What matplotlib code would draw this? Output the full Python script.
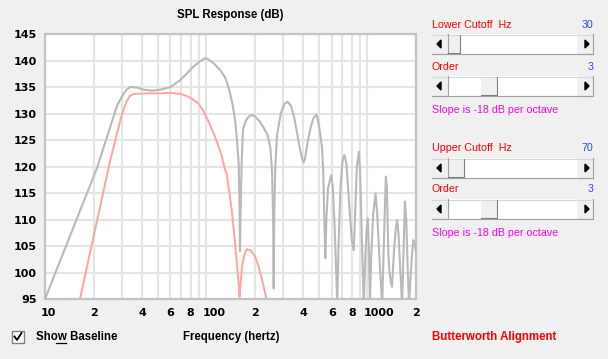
import numpy as np
import matplotlib.pyplot as plt
from matplotlib.patches import Rectangle, Polygon
from matplotlib.transforms import ScaledTranslation

# baseline response (gray) and filtered response (pink)
gray_freq = [10, 21, 28, 30, 32, 34, 37, 41, 46, 52, 60, 69, 76, 83, 92, 98, 102, 110,
             122, 131, 138, 145, 151, 155, 159, 161, 162, 163, 166, 169, 175, 183, 192,
             200, 215, 228, 240, 250, 256, 260, 262, 264, 268, 275, 290, 305, 320, 335,
             350, 365, 380, 395, 402, 410, 425, 445, 465, 482, 495, 510, 522, 532, 540,
             548, 556, 570, 597, 610, 625, 640, 649, 660, 680, 700, 720, 740, 770, 800,
             822, 840, 860, 884, 900, 920, 948, 970, 990, 1005, 1020, 1035, 1055, 1085,
             1122, 1150, 1190, 1234, 1260, 1285, 1300, 1320, 1347, 1370, 1400, 1419,
             1460, 1500, 1528, 1560, 1600, 1641, 1670, 1707, 1740, 1775, 1808, 1850,
             1890, 1924, 1960, 2000]
gray_db = [95, 119.7, 131.5, 133.2, 134.5, 135.0, 134.9, 134.5, 134.3, 134.5, 135.0,
           136.3, 137.6, 138.8, 139.9, 140.4, 140.3, 139.6, 138.2, 136.8, 134.8, 132.0,
           128.8, 125.0, 120.6, 112, 104, 110, 121, 126.9, 128.5, 129.4, 129.7, 129.5,
           128.5, 127.2, 126.0, 123.5, 119, 110, 97, 110, 120, 126, 130, 131.8, 132.2,
           131.5, 129.5, 126.5, 123.5, 121.2, 120.8, 121.5, 124.5, 127.5, 129.3, 129.8,
           128.5, 126, 123.7, 119, 110, 102.7, 110, 116, 118.4, 116, 109, 100, 94, 104,
           116, 121, 122.2, 120.5, 113, 106, 104.2, 112, 120, 122.8, 119, 108, 94, 103,
           108.5, 110.2, 105, 94, 103, 111, 114.9, 111, 102, 94, 104, 113, 118.1, 116,
           103.6, 100, 98, 97.3, 104, 108.5, 109.9, 107, 100, 94, 103, 113.4, 110, 101,
           94, 99, 103.5, 106.1, 105.5, 104]

pink_freq = [16.5, 25.4, 29.9, 32, 33.7, 36, 42.7, 52, 60, 69, 76, 83, 90, 96, 103,
             111, 118, 125, 131, 134, 144, 151, 156, 159, 161, 163, 166, 171, 178, 188,
             201, 212, 222, 236, 245]
pink_db = [95.1, 121.2, 129.7, 132.2, 133.4, 133.7, 133.8, 133.8, 133.9, 133.7, 133.3,
           132.6, 131.8, 130.5, 128.6, 126.3, 124.2, 121.9, 119.3, 118.7, 111.8, 105.5,
           100.5, 97.5, 95.4, 97.5, 100.5, 103, 104.4, 104.2, 103, 101, 98.6, 95.1, 92]

y_ticks = [95, 100, 105, 110, 115, 120, 125, 130, 135, 140, 145]
x_ticks = [10, 20, 40, 60, 80, 100, 200, 400, 600, 800, 1000, 2000]
x_labels = ['10', '2', '4', '6', '8', '100', '2', '4', '6', '8', '1000', '2']

W, H = 608, 359
bg = '#f0f0f0'
fig = plt.figure(figsize=(W / 100, H / 100), dpi=100, facecolor=bg)

# overlay in pixel coords for the window controls
ui = fig.add_axes([0, 0, 1, 1], zorder=0)
ui.set_xlim(0, W)
ui.set_ylim(H, 0)
ui.axis('off')

ax = fig.add_axes([45 / W, 1 - 299 / H, (416 - 45) / W, (299 - 34) / H], zorder=1)
ax.set_facecolor('white')
ax.set_xscale('log')
ax.set_xlim(10, 2000)
ax.set_ylim(95, 145)

grid_x = [m * 10 ** d for d in (1, 2, 3) for m in range(1, 10) if m * 10 ** d <= 2000]
for gx in grid_x:
    ax.axvline(gx, color='#e4e4e4', lw=1.5, zorder=1)
for gy in y_ticks:
    ax.axhline(gy, color='#e4e4e4', lw=1.5, zorder=1)

ax.plot(gray_freq, gray_db, color='#b9b9b9', lw=1.5, zorder=3)
ax.plot(pink_freq, pink_db, color='#ffa3a3', lw=1.4, zorder=4)

ax.set_xticks(x_ticks)
ax.set_xticklabels(x_labels)
ax.xaxis.set_minor_locator(plt.NullLocator())
ax.set_yticks(y_ticks)
ax.tick_params(length=0, labelsize=8, pad=6.5)
ax.tick_params(axis='y', pad=6)
for lab in ax.get_xticklabels() + ax.get_yticklabels():
    lab.set_fontweight('bold')
# multi-digit labels start with their first digit centred on the line
shift = ScaledTranslation(-4 / 100, 0, fig.dpi_scale_trans)
for lab in ax.get_xticklabels():
    if len(lab.get_text()) > 1:
        lab.set_horizontalalignment('left')
        lab.set_transform(lab.get_transform() + shift)
for s in ax.spines.values():
    s.set_color('#c3c3c3')
    s.set_linewidth(1.6)

bold_font = dict(family='Liberation Sans', fontsize=8.3, fontweight='bold')
ui.text(230.5, 15, 'SPL Response (dB)', ha='center', va='center', **bold_font)
ui.text(231, 337, 'Frequency (hertz)', ha='center', va='center', **bold_font)

# checkbox
ui.add_patch(Rectangle((12, 331), 12, 12, facecolor='white', edgecolor='#808080', lw=1))
ui.plot([14.5, 17, 21.5], [336.5, 340, 333], color='black', lw=1.3)
ui.text(36, 337, 'Show Baseline', ha='left', va='center', **bold_font)
ui.plot([56, 66], [342.5, 342.5], color='black', lw=0.9)

lab_font = dict(family='Liberation Sans', fontsize=7.7)


def slider(y0, tx, tw):
    x0, w, h = 432, 161, 20
    ui.add_patch(Rectangle((x0, y0), w, h, facecolor='white', edgecolor='none'))
    ui.plot([x0, x0 + w], [y0 + 0.5, y0 + 0.5], color='#d8d8d8', lw=0.8)
    ui.plot([x0, x0 + w], [y0 + h - 0.5, y0 + h - 0.5], color='#a0a0a0', lw=0.8)
    for bx in (x0, x0 + w - 16):
        ui.add_patch(Rectangle((bx, y0), 16, h, facecolor=bg, edgecolor='none'))
        ui.plot([bx + 16, bx + 16, bx], [y0, y0 + h, y0 + h], color='#a0a0a0', lw=0.8)
    ui.add_patch(Polygon([[437, y0 + 10], [441, y0 + 6], [441, y0 + 14]], color='black'))
    ui.add_patch(Polygon([[589, y0 + 10], [585, y0 + 6], [585, y0 + 14]], color='black'))
    ui.add_patch(Rectangle((tx, y0 + 1), tw, h - 2, facecolor=bg, edgecolor='none'))
    ui.plot([tx + tw, tx + tw, tx], [y0 + 1, y0 + h - 1, y0 + h - 1], color='#808080', lw=0.8)


ui.text(432, 25, 'Lower Cutoff  Hz', color='#ff0000', ha='left', va='center', **lab_font)
ui.text(593, 25, '30', color='#2a4cff', ha='right', va='center', **lab_font)
slider(34, 448, 12)
ui.text(432, 66.5, 'Order', color='#ff0000', ha='left', va='center', **lab_font)
ui.text(593, 66.5, '3', color='#2a4cff', ha='right', va='center', **lab_font)
slider(76, 481, 16)
ui.text(432, 110, 'Slope is -18 dB per octave', color='#ff00ff', ha='left', va='center', **lab_font)

ui.text(432, 148, 'Upper Cutoff  Hz', color='#ff0000', ha='left', va='center', **lab_font)
ui.text(593, 148, '70', color='#2a4cff', ha='right', va='center', **lab_font)
slider(158, 448, 16)
ui.text(432, 188.5, 'Order', color='#ff0000', ha='left', va='center', **lab_font)
ui.text(593, 188.5, '3', color='#2a4cff', ha='right', va='center', **lab_font)
slider(199, 481, 16)
ui.text(432, 233, 'Slope is -18 dB per octave', color='#ff00ff', ha='left', va='center', **lab_font)

ui.text(432, 337, 'Butterworth Alignment', color='#ff0000', ha='left', va='center', **bold_font)

plt.savefig('out.png', dpi=100, facecolor=bg)
